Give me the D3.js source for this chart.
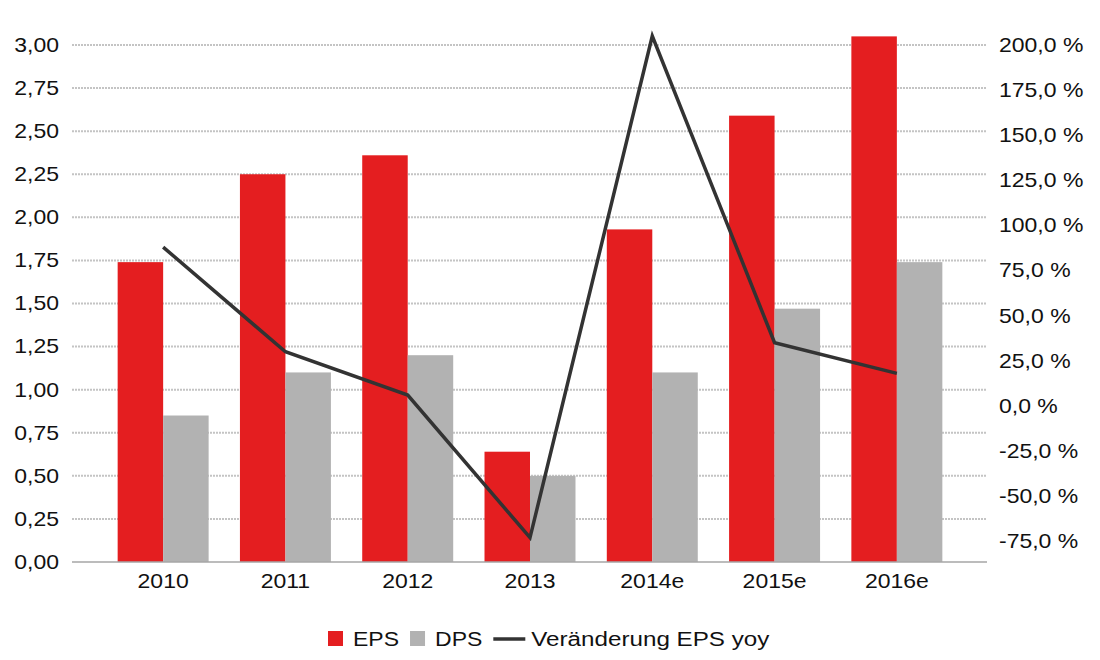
<!DOCTYPE html>
<html><head><meta charset="utf-8">
<script src="https://cdn.jsdelivr.net/npm/d3@7"></script>
<style>
html,body{margin:0;padding:0;background:#fff;}
text{font-family:"Liberation Sans",Arial,sans-serif;fill:#111;}
</style></head>
<body>
<svg id="chart" width="1100" height="660"></svg>
<script>
const categories = ["2010","2011","2012","2013","2014e","2015e","2016e"];
const eps = [1.74, 2.25, 2.36, 0.64, 1.93, 2.59, 3.05];
const dps = [0.85, 1.10, 1.20, 0.50, 1.10, 1.47, 1.74];
const epsYoy = [88, 30, 6, -73, 205, 35, 18];
const leftTicks = [0,0.25,0.5,0.75,1,1.25,1.5,1.75,2,2.25,2.5,2.75,3];
const rightTicks = [-75,-50,-25,0,25,50,75,100,125,150,175,200];
const seriesNames = ["EPS","DPS","Veränderung EPS yoy"];
const colors = {EPS:"#e41e20", DPS:"#b2b2b2", line:"#333333"};

const svg = d3.select("#chart");
const SX = 1.15; // horizontal text stretch
const FS = 20;
const plotL = 72, plotR = 987, plotTop = 45, plotBottom = 562;

const x = d3.scaleBand().domain(categories).range([102, 958]).paddingInner(0.256).paddingOuter(0.128);
const xs = d3.scaleBand().domain(["EPS","DPS"]).range([0, x.bandwidth()]);
const yL = d3.scaleLinear().domain([0, 3]).range([plotBottom, plotTop]);
const yR = d3.scaleLinear().domain([-86.5, 200]).range([plotBottom, plotTop]);

// gridlines
svg.append("g").selectAll("line").data(leftTicks.filter(d => d > 0)).join("line")
  .attr("x1", plotL).attr("x2", plotR)
  .attr("y1", d => yL(d)).attr("y2", d => yL(d))
  .attr("stroke", "#c4c4c4").attr("stroke-width", 2).attr("stroke-dasharray", "2,1");

// bars
const g = svg.append("g");
categories.forEach((c, i) => {
  [["EPS", eps[i]], ["DPS", dps[i]]].forEach(([k, v]) => {
    g.append("rect")
      .attr("x", x(c) + xs(k)).attr("width", xs.bandwidth())
      .attr("y", yL(v)).attr("height", yL(0) - yL(v))
      .attr("fill", colors[k]);
  });
});

// baseline
svg.append("line").attr("x1", plotL).attr("x2", plotR).attr("y1", yL(0)).attr("y2", yL(0))
  .attr("stroke", "#a6a6a6").attr("stroke-width", 1.5);

// line
const line = d3.line().x((d, i) => x(categories[i]) + x.bandwidth() / 2).y(d => yR(d));
svg.append("path").datum(epsYoy).attr("d", line)
  .attr("fill", "none").attr("stroke", colors.line).attr("stroke-width", 3.5).attr("stroke-linejoin", "miter");

// axes
const axL = d3.axisLeft(yL).tickValues(leftTicks).tickSize(0).tickPadding(0)
  .tickFormat(d => d.toFixed(2).replace(".", ","));
const gL = svg.append("g").attr("transform", `translate(${plotL},0)`).call(axL);
gL.select(".domain").remove();
gL.selectAll("text").attr("x", -13 / SX).attr("transform", `scale(${SX},1)`)
  .style("font-size", FS + "px").style("fill", "#111");

const axR = d3.axisRight(yR).tickValues(rightTicks).tickSize(0).tickPadding(0)
  .tickFormat(d => (d < 0 ? "-" : "") + Math.abs(d).toFixed(1).replace(".", ",") + " %");
const gR = svg.append("g").attr("transform", `translate(${plotR},0)`).call(axR);
gR.select(".domain").remove();
gR.selectAll("text").attr("x", 12 / SX).attr("transform", `scale(${SX},1)`)
  .style("font-size", FS + "px").style("fill", "#111");

const axB = d3.axisBottom(x).tickSize(0).tickPadding(12);
const gB = svg.append("g").attr("transform", `translate(0,${plotBottom})`).call(axB);
gB.select(".domain").remove();
gB.selectAll("text").attr("transform", `scale(${SX},1)`).attr("x", 0)
  .style("font-size", FS + "px").style("fill", "#111");

// legend
const lg = svg.append("g");
let lx = 328;
const ly = 639;
seriesNames.forEach((name, i) => {
  let sx = SX;
  if (i < 2) {
    lg.append("rect").attr("x", lx).attr("y", ly - 8).attr("width", 15).attr("height", 15)
      .attr("fill", i === 0 ? colors.EPS : colors.DPS);
    lx += 15 + 10;
  } else {
    lg.append("line").attr("x1", lx).attr("x2", lx + 32).attr("y1", ly).attr("y2", ly)
      .attr("stroke", colors.line).attr("stroke-width", 3.5);
    lx += 32 + 6;
    sx = 1.21;
  }
  const t = lg.append("text").attr("x", 0).attr("y", 0).attr("dy", "0.36em")
    .style("font-size", FS + "px").text(name)
    .attr("transform", `translate(${lx},${ly}) scale(${sx},1)`);
  const w = t.node().getComputedTextLength() * sx;
  lx += w + 11;
});
</script>
</body></html>
